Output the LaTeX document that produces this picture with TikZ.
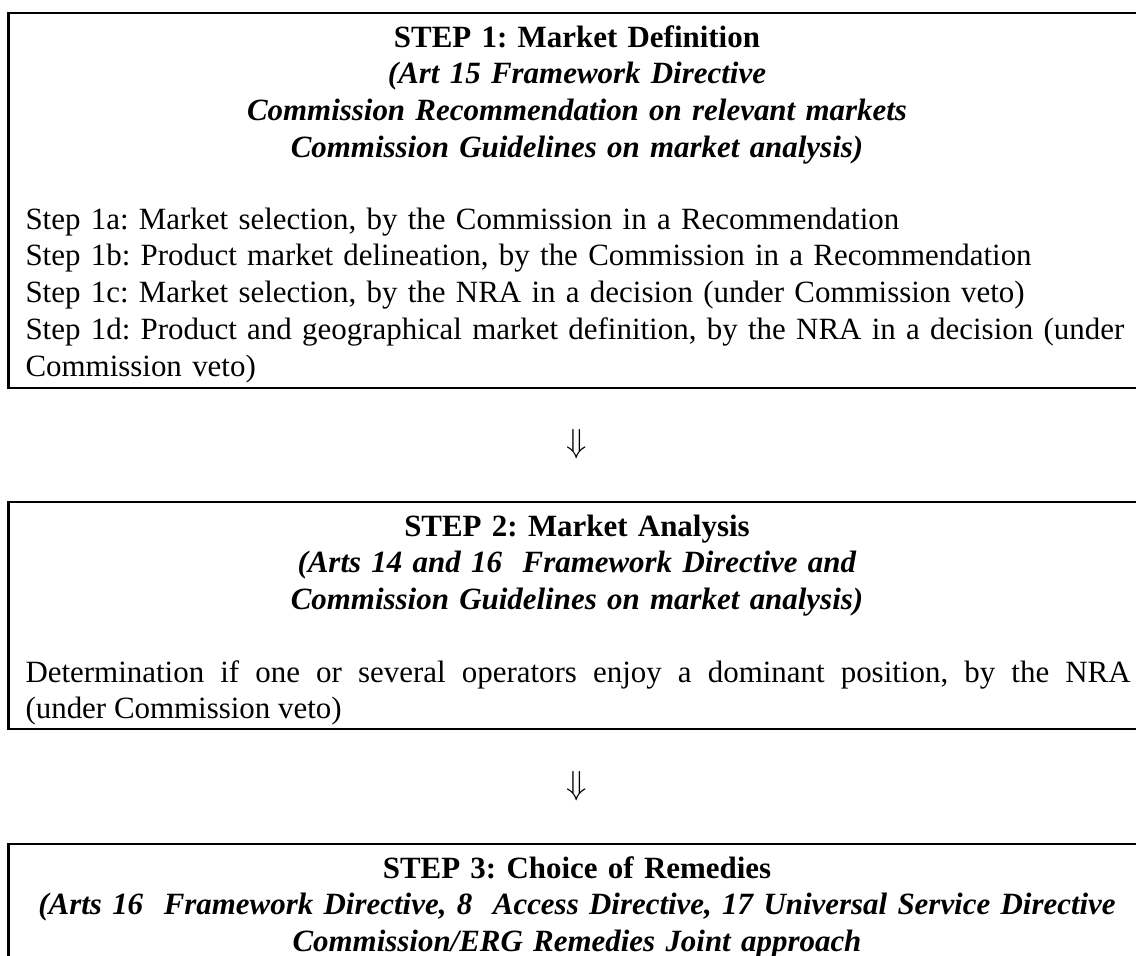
\documentclass[tikz,border=0pt]{standalone}
\usepackage{amsmath}
\usepackage{fontspec}
\setmainfont{Liberation Serif}
\usepackage{tikz}
\frenchspacing
\tikzset{
    stepbox/.style={draw, line width=1pt},
    steptext/.style={inner sep=0pt, font=\fontsize{11.6}{13.8}\selectfont},
    steptitle/.style={steptext, text width=440pt, anchor=base, align=center},
    stepbody/.style={steptext, text width=420pt, anchor=base west, align=left},
}

\begin{document}
\begin{tikzpicture}[x=0.375pt,y=-0.375pt]
	\useasboundingbox (0,0) rectangle (1136,955);
	\draw[stepbox] (8.5,13) rectangle (1150,388);
	\draw[stepbox] (8.5,502) rectangle (1150,729);
	\draw[stepbox] (8.5,844) rectangle (1150,1000);
	\node[steptitle] (title1) at (577,47) {\textbf{STEP 1: Market Definition}\\
		\textbf{\textit{(Art 15 Framework Directive}}\\
		\textbf{\textit{Commission Recommendation on relevant markets}}\\
		\textbf{\textit{Commission Guidelines on market analysis)}}};
	\node[stepbody] (body1) at (25,229) {Step 1a: Market selection, by the Commission in a Recommendation\\
		Step 1b: Product market delineation, by the Commission in a Recommendation\\
		Step 1c: Market selection, by the NRA in a decision (under Commission veto)\\
		Step 1d: Product and geographical market definition, by the NRA in a decision (under\\
		Commission veto)};
	\node[scale=1.25] (down1) at (577,444) {$\Downarrow$};
	\node[steptitle] (title2) at (577,536) {\textbf{STEP 2: Market Analysis}\\
		\textbf{\textit{(Arts 14 and 16~ Framework Directive and}}\\
		\textbf{\textit{Commission Guidelines on market analysis)}}};
	\node[steptext, text width=414.4pt, anchor=base west, align=justify] (body2) at (25,682) {Determination if one or several operators enjoy a dominant position, by the NRA\linebreak (under Commission veto)};
	\node[scale=1.25] (down2) at (577,786) {$\Downarrow$};
	\node[steptitle] (title3) at (577,878) {\textbf{STEP 3: Choice of Remedies}\\
		\textbf{\textit{(Arts 16~ Framework Directive, 8~ Access Directive, 17 Universal Service Directive}}\\
		\textbf{\textit{Commission/ERG Remedies Joint approach}}};
\end{tikzpicture}
\end{document}
